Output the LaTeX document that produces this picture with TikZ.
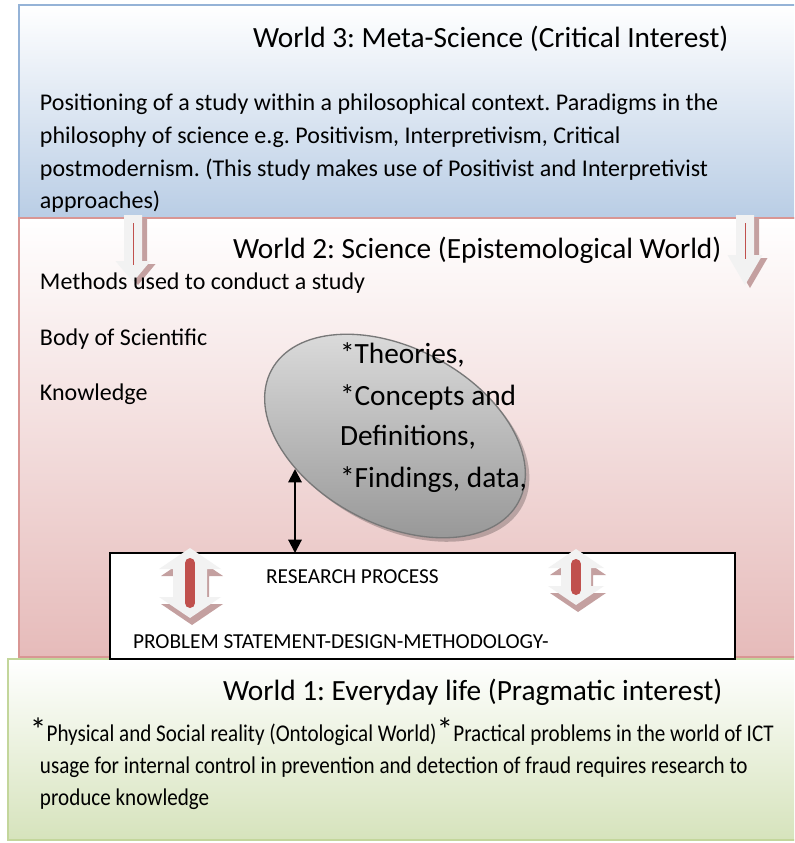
\documentclass[tikz,border=0pt]{standalone}
\usepackage{fontspec}
\setmainfont{Carlito}
\newfontfamily\narrowfont[FakeStretch=0.88]{Carlito}
\usetikzlibrary{arrows.meta,shapes.geometric}
\frenchspacing

\definecolor{skyedge}{RGB}{149,179,215}
\definecolor{skyfill}{RGB}{185,205,229}
\definecolor{roseedge}{RGB}{217,150,148}
\definecolor{rosefill}{RGB}{230,187,186}
\definecolor{leafedge}{RGB}{195,214,155}
\definecolor{leaffill}{RGB}{214,227,188}
\definecolor{barred}{RGB}{192,80,77}
\definecolor{blockgrey}{RGB}{242,242,242}
\definecolor{blockshadow}{RGB}{196,160,160}
\definecolor{ovaltop}{RGB}{222,222,222}
\definecolor{ovalbottom}{RGB}{150,150,150}
\definecolor{ovaledge}{RGB}{120,120,120}

% hollow block arrow pointing down: centre x, top, head base, tip
\newcommand{\DownBlock}[4]{%
  \fill[blockshadow] ({#1-9+5},{#2+3}) -- ({#1+9+5},{#2+3}) -- ({#1+9+5},{#3+3})
    -- ({#1+17.5+5},{#3+3}) -- ({#1+5},{#4+3}) -- ({#1-17.5+5},{#3+3})
    -- ({#1-9+5},{#3+3}) -- cycle;
  \fill[blockgrey] ({#1-9},#2) -- ({#1+9},#2) -- ({#1+9},#3) -- ({#1+17.5},#3)
    -- (#1,#4) -- ({#1-17.5},#3) -- ({#1-9},#3) -- cycle;
  \draw[barred, line width=0.75pt] (#1,{#2+8}) -- (#1,{#3+4});
}
% block arrow pointing up and down: centre x, top tip, bottom tip, head half width, head height, shaft half width
\newcommand{\UpDownBlock}[6]{%
  \foreach \dx/\dy/\col in {2/7/blockshadow, 0/0/blockgrey}{%
    \fill[\col] ({#1+\dx},{#2+\dy}) -- ({#1+#4+\dx},{#2+#5+\dy}) -- ({#1+#6+\dx},{#2+#5+\dy})
      -- ({#1+#6+\dx},{#3-#5+\dy}) -- ({#1+#4+\dx},{#3-#5+\dy}) -- ({#1+\dx},{#3+\dy})
      -- ({#1-#4+\dx},{#3-#5+\dy}) -- ({#1-#6+\dx},{#3-#5+\dy}) -- ({#1-#6+\dx},{#2+#5+\dy})
      -- ({#1-#4+\dx},{#2+#5+\dy}) -- cycle;
  }
  \draw[barred, line width=7.5pt, line cap=round] (#1,{#2+15}) -- (#1,{#3-15});
}

\begin{document}
\begin{tikzpicture}[x=0.75pt, y=-0.75pt,
  every node/.style={inner sep=0pt, outer sep=0pt, anchor=base west, text=black},
  heading/.style={font=\fontsize{22}{26}\selectfont},
  bodytext/.style={font=\fontsize{18}{22}\selectfont},
  condtext/.style={font=\narrowfont\fontsize{18}{22}\selectfont},
  capstext/.style={font=\fontsize{16}{20}\selectfont},
  ovaltext/.style={font=\fontsize{22}{26}\selectfont},
  oval/.style={ellipse, anchor=center, rotate=-28, minimum width=210pt, minimum height=132pt},
  linkarrow/.style={line width=1.5pt, {Triangle[width=10pt,length=10pt]}-{Triangle[width=10pt,length=10pt]}}
]
\fill[white] (0,0) rectangle (794,843);
\useasboundingbox (0,0) rectangle (794,843);
\begin{scope}
\clip (0,0) rectangle (794,843);

% World 3 panel
\draw[skyedge, line width=1.5pt, top color=white, bottom color=skyfill] (19,5) rectangle (800,218);
% World 2 panel
\draw[roseedge, line width=1.5pt, top color=white, bottom color=rosefill] (19,218) rectangle (800,657);
% World 1 panel
\draw[leafedge, line width=1.5pt, top color=white, bottom color=leaffill] (8,659) rectangle (800,840);

% research process panel
\node[draw=black, line width=1.5pt, fill=white, anchor=north west,
      minimum width=468.75pt, minimum height=79.5pt] (proc) at (110,553) {};

% the oval of scientific knowledge
\node[oval, fill=black, opacity=0.22] (ovalshade) at (399,440) {};
\node[oval, draw=ovaledge, line width=1pt, top color=ovaltop, bottom color=ovalbottom] (knowledge) at (395,436) {};

% block arrows
\DownBlock{133}{215}{261}{282}
\DownBlock{745}{215}{255}{285}
\UpDownBlock{190}{548}{618}{31}{21}{17}
\UpDownBlock{576}{549}{605}{28}{19}{15}

% link between the oval and the research process
\coordinate (ovalfoot) at (295,469);
\draw[linkarrow] (ovalfoot) -- (ovalfoot |- proc.north);

% World 3 texts
\node[heading] (t3) at (253,47) {World 3: Meta-Science (Critical Interest)};
\node[bodytext] (p1) at (40,110) {Positioning of a study within a philosophical context. Paradigms in the};
\node[bodytext] (p2) at (40,143) {philosophy of science e.g. Positivism, Interpretivism, Critical};
\node[bodytext] (p3) at (40,176) {postmodernism. (This study makes use of Positivist and Interpretivist};
\node[bodytext] (p4) at (40,208) {approaches)};

% World 2 texts
\node[heading] (t2) at (233,258) {World 2: Science (Epistemological World)};
\node[bodytext] (m1) at (40,289) {Methods used to conduct a study};
\node[bodytext] (m2) at (40,345) {Body of Scientific};
\node[bodytext] (m3) at (40,400) {Knowledge};

\node[ovaltext] (o1) at (340,363) {*Theories,};
\node[ovaltext] (o2) at (340,405) {*Concepts and};
\node[ovaltext] (o3) at (340,445) {Definitions,};
\node[ovaltext] (o4) at (340,487) {*Findings, data,};

\node[capstext] (r1) at (266,583) {RESEARCH PROCESS};
\node[capstext] (r2) at (133,648) {PROBLEM STATEMENT-DESIGN-METHODOLOGY-};

% World 1 texts
\node[heading] (t1) at (223,700) {World 1: Everyday life (Pragmatic interest)};
\node[condtext] (e1) at (30,741) {{\normalfont\fontsize{25}{25}\selectfont*}Physical and Social reality (Ontological World){\normalfont\fontsize{25}{25}\selectfont*}Practical problems in the world of ICT};
\node[condtext] (e2) at (40,773) {usage for internal control in prevention and detection of fraud requires research to};
\node[condtext] (e3) at (40,805) {produce knowledge};
\end{scope}
\end{tikzpicture}
\end{document}
